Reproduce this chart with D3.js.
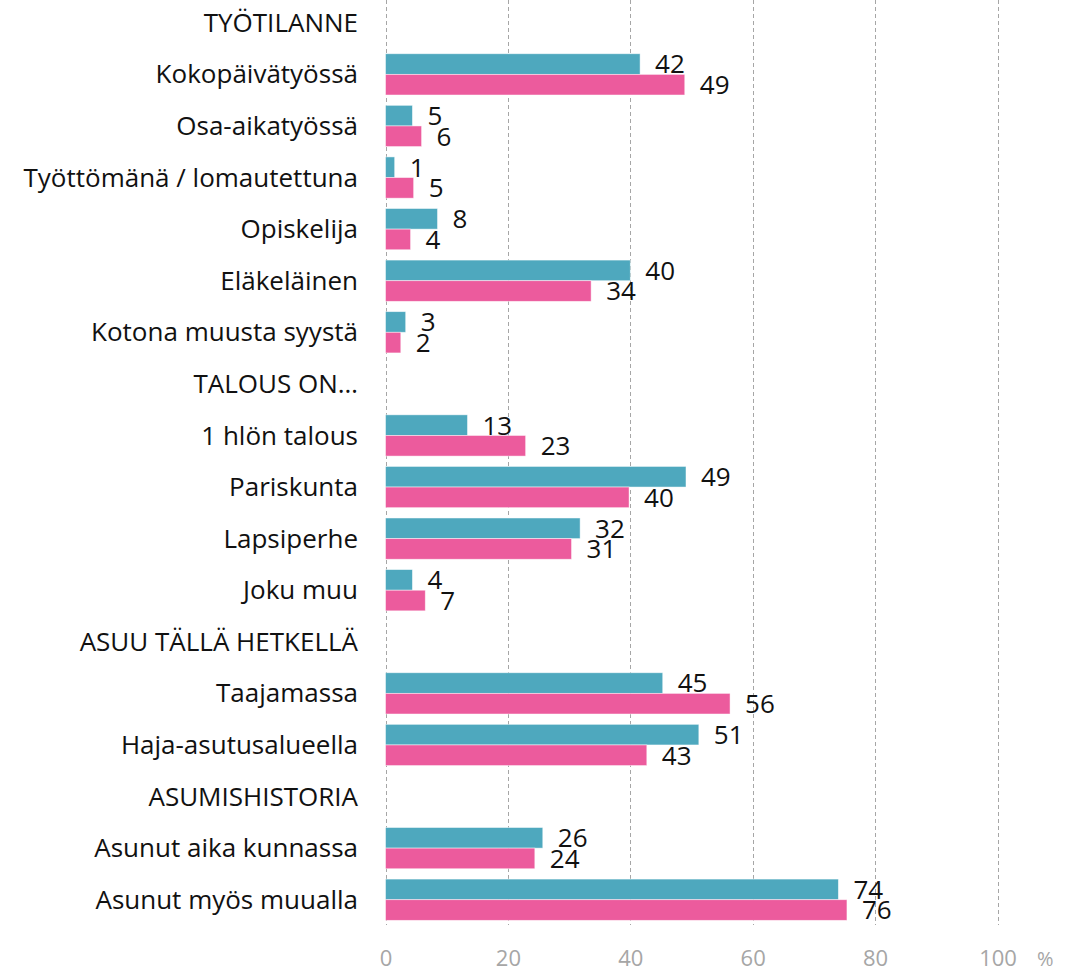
<!DOCTYPE html>
<html>
<head>
<meta charset="utf-8">
<script src="https://cdn.jsdelivr.net/npm/d3@7"></script>
<style>
  body { margin: 0; background: #fff; }
  svg { display: block; font-family: "Open Sans", sans-serif; }
</style>
</head>
<body>
<div id="chart"></div>
<script>
// rows, top to bottom (headers have no bars)
var categories = ["TYÖTILANNE", "Kokopäivätyössä", "Osa-aikatyössä", "Työttömänä / lomautettuna",
  "Opiskelija", "Eläkeläinen", "Kotona muusta syystä", "TALOUS ON…", "1 hlön talous",
  "Pariskunta", "Lapsiperhe", "Joku muu", "ASUU TÄLLÄ HETKELLÄ", "Taajamassa",
  "Haja-asutusalueella", "ASUMISHISTORIA", "Asunut aika kunnassa", "Asunut myös muualla"];

// teal series (upper bar)
var valuesA = [null, 41.6, 4.4, 1.5, 8.5, 40.0, 3.3, null, 13.4, 49.1, 31.8, 4.4, null, 45.3, 51.2, null, 25.7, 74.0];
var labelsA = [null, 42, 5, 1, 8, 40, 3, null, 13, 49, 32, 4, null, 45, 51, null, 26, 74];

// pink series (lower bar)
var valuesB = [null, 48.9, 5.9, 4.6, 4.1, 33.6, 2.5, null, 22.9, 39.8, 30.4, 6.5, null, 56.3, 42.7, null, 24.4, 75.4];
var labelsB = [null, 49, 6, 5, 4, 34, 2, null, 23, 40, 31, 7, null, 56, 43, null, 24, 76];

var ticks = [0, 20, 40, 60, 80, 100];
var series = ["a", "b"];
var colors = {a: "#4ea8be", b: "#ec5b9d"};

var width = 1081, height = 970;

var svg = d3.select("#chart").append("svg")
    .attr("width", width)
    .attr("height", height);

var x = d3.scaleLinear()
    .domain([0, 100])
    .range([385.5, 997.5]);

var y = d3.scaleBand()
    .domain(categories)
    .range([-3, 925.5])
    .paddingInner(0.2)
    .paddingOuter(0.1);

var sub = d3.scaleBand()
    .domain(series)
    .range([0, y.bandwidth()]);

// dashed gridlines
svg.append("g")
  .selectAll("line")
    .data(ticks)
  .enter().append("line")
    .attr("x1", function(d) { return Math.round(x(d)) + 0.5; })
    .attr("x2", function(d) { return Math.round(x(d)) + 0.5; })
    .attr("y1", 0)
    .attr("y2", 925)
    .attr("stroke", "#a6a6a6")
    .attr("stroke-width", 1)
    .attr("stroke-dasharray", "4,3");

// x axis labels
var xAxis = svg.append("g")
    .attr("transform", "translate(0,966)")
    .call(d3.axisBottom(x).tickValues(ticks).tickSize(0).tickPadding(0));
xAxis.select(".domain").remove();
xAxis.selectAll("text")
    .attr("dy", 0)
    .attr("font-size", 22)
    .attr("font-family", "Open Sans, sans-serif")
    .attr("fill", "#a6a6a6");

svg.append("text")
    .attr("x", 1037)
    .attr("y", 966)
    .attr("font-size", 20)
    .attr("fill", "#a6a6a6")
    .text("%");

// category labels
var yAxis = svg.append("g")
    .attr("transform", "translate(358,0)")
    .call(d3.axisLeft(y).tickSize(0).tickPadding(0));
yAxis.select(".domain").remove();
yAxis.selectAll("text")
    .attr("font-size", 26)
    .attr("font-family", "Open Sans, sans-serif")
    .attr("fill", "#111")
    .attr("dy", "0.35em");

// bars
var rows = categories.map(function(c, i) {
  return {cat: c, a: valuesA[i], b: valuesB[i], la: labelsA[i], lb: labelsB[i]};
}).filter(function(d) { return d.a !== null; });

var bars = [];
rows.forEach(function(r) {
  series.forEach(function(s) {
    bars.push({cat: r.cat, key: s, value: r[s], label: s === "a" ? r.la : r.lb});
  });
});

svg.append("g")
  .selectAll("rect")
    .data(bars)
  .enter().append("rect")
    .attr("x", x(0))
    .attr("y", function(d) { return y(d.cat) + sub(d.key); })
    .attr("width", function(d) { return x(d.value) - x(0); })
    .attr("height", sub.bandwidth())
    .attr("fill", function(d) { return colors[d.key]; })
    .attr("stroke", "#fff")
    .attr("stroke-opacity", 0.6)
    .attr("stroke-width", 0.8);

// value labels
svg.append("g")
  .selectAll("text")
    .data(bars)
  .enter().append("text")
    .attr("x", function(d) { return x(d.value) + 15; })
    .attr("y", function(d) { return y(d.cat) + sub(d.key) + sub.bandwidth() / 2; })
    .attr("dy", "0.36em")
    .attr("font-size", 26)
    .attr("fill", "#111")
    .text(function(d) { return d.label; });
</script>
</body>
</html>
